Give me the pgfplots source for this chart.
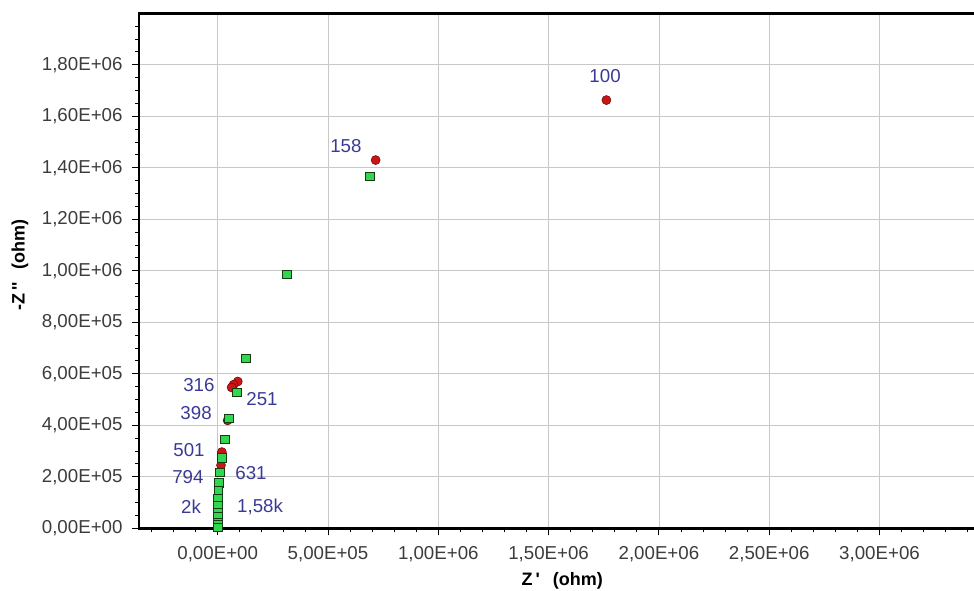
\documentclass[border=0pt]{standalone}
\usepackage{fontspec}
\setmainfont{Liberation Sans}
\usepackage{pgfplots}
\pgfplotsset{compat=1.18}
\definecolor{annot}{RGB}{58,58,150}
\definecolor{ticklab}{RGB}{60,60,60}
\definecolor{redfill}{RGB}{205,20,20}
\definecolor{reddraw}{RGB}{110,15,15}
\definecolor{greenfill}{RGB}{50,215,80}
\definecolor{greendraw}{RGB}{20,60,20}
\definecolor{gridc}{RGB}{200,200,200}
\begin{document}
\begin{tikzpicture}
\path[use as bounding box] (-139bp,-62.7bp) rectangle (835bp,528.3bp);
\begin{axis}[
  scale only axis,
  width=840bp, height=515bp,
  xmin=-356700, xmax=3451000,
  ymin=0, ymax=2000000,
  scaled x ticks=false, scaled y ticks=false,
  axis line style={line width=2.5bp, black},
  tick align=outside,
  tick pos=left,
  major tick length=7bp,
  minor tick length=4bp,
  every tick/.style={black, line width=0.9bp},
  grid=major,
  major grid style={gridc, line width=0.8bp},
  xtick={0,500000,1000000,1500000,2000000,2500000,3000000},
  xticklabels={{0,00E+00},{5,00E+05},{1,00E+06},{1,50E+06},{2,00E+06},{2,50E+06},{3,00E+06}},
  minor xtick={-300000,-200000,-100000,100000,200000,300000,400000,600000,700000,800000,900000,1100000,1200000,1300000,1400000,1600000,1700000,1800000,1900000,2100000,2200000,2300000,2400000,2600000,2700000,2800000,2900000,3100000,3200000,3300000,3400000},
  ytick={0,200000,400000,600000,800000,1000000,1200000,1400000,1600000,1800000},
  yticklabels={{0,00E+00},{2,00E+05},{4,00E+05},{6,00E+05},{8,00E+05},{1,00E+06},{1,20E+06},{1,40E+06},{1,60E+06},{1,80E+06}},
  minor ytick={50000,100000,150000,250000,300000,350000,450000,500000,550000,650000,700000,750000,850000,900000,950000,1050000,1100000,1150000,1250000,1300000,1350000,1450000,1500000,1550000,1650000,1700000,1750000,1850000,1900000,1950000},
  tick label style={font=\fontsize{18.7bp}{21bp}\selectfont, text=ticklab},
  xticklabel style={yshift=-8bp},
  yticklabel style={xshift=-6bp},
  xlabel={Z\,\textquotesingle\ \ \,(ohm)},
  ylabel={-Z\,\textquotesingle\textquotesingle\ \ \,(ohm)},
  label style={font=\fontsize{18bp}{20bp}\selectfont\bfseries},
  xlabel style={at={(axis description cs:0.504,0)}, anchor=center, yshift=-53bp},
  ylabel style={at={(axis description cs:0,0.511)}, anchor=center, yshift=119bp},
  clip=false,
]
\addplot[only marks, mark=*, mark size=4.5bp, mark options={fill=redfill, draw=reddraw, line width=0.6bp}] coordinates {
(1762000,1663000) (716000,1430000) (91000,570000) (72000,558000) (63000,547000)
(45000,419000) (19000,296000) (15000,245000)
};
\addplot[only marks, mark=square*, mark size=4.2bp, mark options={fill=greenfill, draw=greendraw, line width=0.7bp}] coordinates {
(690000,1366000) (314000,986000) (128000,660000) (87000,528000) (51000,428000)
(33000,346000) (19000,273000) (10000,218000) (6000,176000) (2000,148000)
(1000,117000) (1000,90000) (1000,63000) (1000,44000) (1000,24000) (1000,13000) (1000,3000)
};
\begin{scope}[every node/.style={text=annot, font=\fontsize{18.7bp}{21bp}\selectfont}]
\node at (axis cs:1756000,1757000) {100};
\node at (axis cs:581000,1486000) {158};
\node at (axis cs:-85000,556000) {316};
\node at (axis cs:201000,501000) {251};
\node at (axis cs:-98000,447000) {398};
\node at (axis cs:-130000,304000) {501};
\node at (axis cs:151000,214000) {631};
\node at (axis cs:-135000,199000) {794};
\node at (axis cs:-121000,83000) {2k};
\node at (axis cs:192000,83000) {1,58k};
\end{scope}
\end{axis}
\end{tikzpicture}
\end{document}
